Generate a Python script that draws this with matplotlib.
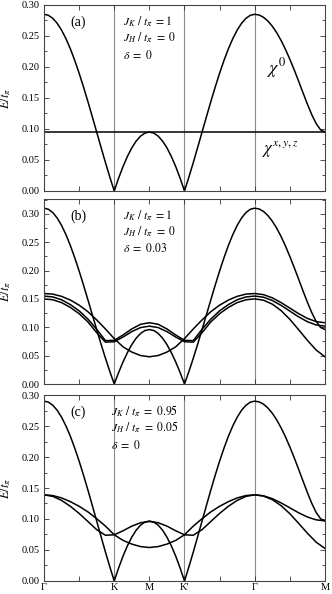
import matplotlib
matplotlib.use('Agg')
import matplotlib.pyplot as plt
from matplotlib.ticker import MultipleLocator, FixedLocator, FormatStrFormatter

plt.rcParams['font.family'] = ['Liberation Serif', 'DejaVu Serif']
plt.rcParams['mathtext.fontset'] = 'stix'

# 路径坐标 Γ-K-M-K'-Γ-M (细网格给 chi0，粗网格给 chi^{x,y,z})
k_fine = [0.0, 0.125, 0.25, 0.375, 0.5, 0.625, 0.75, 0.875, 1.0,
          1.125, 1.25, 1.375, 1.5, 1.625, 1.75, 1.875, 2.0,
          2.125, 2.25, 2.375, 2.5, 2.625, 2.75, 2.875, 3.0,
          3.125, 3.25, 3.375, 3.5, 3.625, 3.75, 3.875, 4.0,
          4.125, 4.25, 4.375, 4.5, 4.625, 4.75, 4.875, 5.0,
          5.125, 5.25, 5.375, 5.5, 5.625, 5.75, 5.875, 6.0,
          6.125, 6.25, 6.375, 6.5, 6.625, 6.75, 6.875, 7.0,
          7.125, 7.25, 7.375, 7.5, 7.625, 7.75, 7.875, 8.0]
k_path = [0.0, 0.25, 0.5, 0.75, 1.0, 1.25, 1.5, 1.75, 2.0,
          2.25, 2.5, 2.75, 3.0, 3.25, 3.5, 3.75, 4.0,
          4.25, 4.5, 4.75, 5.0, 5.25, 5.5, 5.75, 6.0,
          6.25, 6.5, 6.75, 7.0, 7.25, 7.5, 7.75, 8.0]
k_ticks = [0, 2, 3, 4, 6, 8]
k_labels = ['Γ', 'K', 'M', "K'", 'Γ', 'M']
k_vlines = [2, 4, 6]

# (a) J_K=1, J_H=0, delta=0
chi0_a = [0.285, 0.2834, 0.2785, 0.2705, 0.2595, 0.2457, 0.2294, 0.2107, 0.190,
          0.1677, 0.1442, 0.1198, 0.095, 0.0702, 0.0458, 0.0223, 0.0,
          0.0207, 0.0394, 0.0557, 0.0696, 0.0805, 0.0885, 0.0934, 0.095,
          0.0934, 0.0885, 0.0805, 0.0696, 0.0557, 0.0394, 0.0207, 0.0,
          0.0223, 0.0458, 0.0702, 0.095, 0.1198, 0.1442, 0.1677, 0.190,
          0.2107, 0.2294, 0.2457, 0.2595, 0.2705, 0.2785, 0.2834, 0.285,
          0.2838, 0.2801, 0.2741, 0.2658, 0.2553, 0.2428, 0.2284, 0.2124,
          0.1952, 0.1770, 0.1583, 0.1400, 0.1229, 0.1085, 0.0986, 0.095]
chi_xyz_a = 0.095

# (b) J_K=1, J_H=0, delta=0.03
chi0_b = [0.3099, 0.3080, 0.3022, 0.2926, 0.2796, 0.2633, 0.2442, 0.2227, 0.1993,
          0.1744, 0.1485, 0.1222, 0.096, 0.0702, 0.0454, 0.0219, 0.0,
          0.0203, 0.0389, 0.0554, 0.0695, 0.0809, 0.0892, 0.0943, 0.096,
          0.0943, 0.0892, 0.0809, 0.0695, 0.0554, 0.0389, 0.0203, 0.0,
          0.0219, 0.0454, 0.0702, 0.096, 0.1222, 0.1485, 0.1744, 0.1993,
          0.2227, 0.2442, 0.2633, 0.2796, 0.2926, 0.3022, 0.3080, 0.3099,
          0.3085, 0.3041, 0.2969, 0.2870, 0.2746, 0.2599, 0.2431, 0.2247,
          0.2051, 0.1847, 0.1640, 0.1440, 0.1256, 0.1102, 0.0997, 0.096]
chi1_b = [0.1595, 0.1585, 0.1545, 0.148, 0.139, 0.1275, 0.113, 0.097, 0.080,
          0.0656, 0.0563, 0.0502, 0.048,
          0.0502, 0.0563, 0.0656, 0.080,
          0.097, 0.113, 0.1275, 0.139, 0.148, 0.1545, 0.1585, 0.1595,
          0.1575, 0.1519, 0.1435, 0.1338, 0.124, 0.1156, 0.110, 0.108]
chi2_b = [0.155, 0.1535, 0.1485, 0.140, 0.129, 0.1145, 0.0965, 0.0765, 0.077,
          0.0864, 0.0971, 0.1053, 0.108,
          0.1053, 0.0971, 0.0864, 0.077,
          0.0765, 0.0965, 0.1145, 0.129, 0.140, 0.1485, 0.1535, 0.155,
          0.153, 0.1472, 0.1386, 0.1285, 0.1184, 0.1098, 0.104, 0.102]
chi3_b = [0.150, 0.1485, 0.1435, 0.135, 0.124, 0.1095, 0.0905, 0.0738, 0.0745,
          0.0828, 0.0924, 0.0995, 0.102,
          0.0995, 0.0924, 0.0828, 0.0745,
          0.0738, 0.0905, 0.1095, 0.124, 0.135, 0.1435, 0.1485, 0.150,
          0.1477, 0.1408, 0.1294, 0.114, 0.0957, 0.0769, 0.0598, 0.048]

# (c) J_K=0.95, J_H=0.05, delta=0
chi0_c = [0.2901, 0.2885, 0.2835, 0.2754, 0.2642, 0.2501, 0.2335, 0.2144, 0.1934,
          0.1707, 0.1468, 0.1219, 0.0967, 0.0715, 0.0466, 0.0227, 0.0,
          0.0210, 0.0401, 0.0567, 0.0708, 0.0820, 0.0901, 0.0951, 0.0967,
          0.0951, 0.0901, 0.0820, 0.0708, 0.0567, 0.0401, 0.0210, 0.0,
          0.0227, 0.0466, 0.0715, 0.0967, 0.1219, 0.1468, 0.1707, 0.1934,
          0.2144, 0.2335, 0.2501, 0.2642, 0.2754, 0.2835, 0.2885, 0.2901,
          0.2889, 0.2852, 0.2790, 0.2706, 0.2599, 0.2471, 0.2325, 0.2162,
          0.1986, 0.1801, 0.1612, 0.1425, 0.1251, 0.1104, 0.1004, 0.0967]
chi1_c = [0.139, 0.1378, 0.134, 0.128, 0.1205, 0.1115, 0.1005, 0.0885, 0.0745,
          0.0655, 0.0595, 0.0555, 0.054,
          0.0555, 0.0595, 0.0655, 0.0745,
          0.0885, 0.1005, 0.1115, 0.1205, 0.128, 0.134, 0.1378, 0.139,
          0.1374, 0.1328, 0.126, 0.118, 0.110, 0.1032, 0.0986, 0.097]
chi2_c = [0.139, 0.1365, 0.130, 0.1205, 0.109, 0.096, 0.0828, 0.0738, 0.0745,
          0.081, 0.0885, 0.094, 0.096,
          0.094, 0.0885, 0.081, 0.0745,
          0.0738, 0.0828, 0.096, 0.109, 0.1205, 0.130, 0.1365, 0.139,
          0.137, 0.1312, 0.1215, 0.1085, 0.093, 0.077, 0.0625, 0.0525]

params_a = [r'$J_K\ /\ t_\pi\ =1$', r'$J_H\ /\ t_\pi\ =\ 0$', r'$\delta\ =\ 0$']
params_b = [r'$J_K\ /\ t_\pi\ =1$', r'$J_H\ /\ t_\pi\ =\ 0$', r'$\delta\ =\ 0.03$']
params_c = [r'$J_K\ /\ t_\pi\ =\ 0.95$', r'$J_H\ /\ t_\pi\ =\ 0.05$', r'$\delta\ =\ 0$']

fig = plt.figure(figsize=(3.32, 5.94), dpi=100)
ax_a = fig.add_axes([0.1325, 0.6785, 0.8464, 0.3131])
ax_b = fig.add_axes([0.1325, 0.3535, 0.8464, 0.3114])
ax_c = fig.add_axes([0.1325, 0.0219, 0.8464, 0.3131])


def style_axes(ax, ytop, show_x):
    ax.set_xlim(0, 8)
    ax.set_ylim(0, ytop)
    for v in k_vlines:
        ax.axvline(v, color='#8a8a8a', lw=0.8, zorder=1)
    ax.xaxis.set_major_locator(FixedLocator([0, 1, 2, 3, 4, 5, 6, 7, 8]))
    if show_x:
        labels = []
        for i in range(9):
            labels.append(k_labels[k_ticks.index(i)] if i in k_ticks else '')
        ax.set_xticklabels(labels)
    else:
        ax.set_xticklabels([])
    ax.yaxis.set_major_locator(MultipleLocator(0.05))
    ax.yaxis.set_minor_locator(MultipleLocator(0.025))
    ax.yaxis.set_major_formatter(FormatStrFormatter('%.2f'))
    ax.tick_params(which='both', direction='in', top=True, right=True,
                   labelsize=7.5, pad=3, color='#333333')
    ax.tick_params(which='major', length=3.5, width=0.6)
    ax.tick_params(which='minor', length=2, width=0.6)
    ax.tick_params(axis='x', pad=1.5)
    for s in ax.spines.values():
        s.set_linewidth(0.8)
        s.set_color('#444444')
    ax.set_ylabel(r'$E/t_\pi$', fontsize=9, labelpad=6)


def add_params(ax, tag, params, x0):
    ax.text(0.121, 0.909, tag, transform=ax.transAxes, fontsize=10,
            ha='center', va='center')
    ys = [0.911, 0.825, 0.731]
    for txt, yy in zip(params, ys):
        ax.text(x0, yy, txt, transform=ax.transAxes, fontsize=8.5,
                ha='left', va='center')


lw = 1.1
# (a)
style_axes(ax_a, 0.30, False)
ax_a.plot(k_fine, chi0_a, color='black', lw=lw)
ax_a.axhline(chi_xyz_a, color='black', lw=lw)
add_params(ax_a, '(a)', params_a, 0.28)
ax_a.text(6.35, 0.19, r'$\chi^0$', fontsize=13)
ax_a.text(6.22, 0.061, r'$\chi^{x,y,z}$', fontsize=12)

# (b)
style_axes(ax_b, 0.326, False)
ax_b.plot(k_fine, chi0_b, color='black', lw=lw)
for band in [chi1_b, chi2_b, chi3_b]:
    ax_b.plot(k_path, band, color='black', lw=lw)
add_params(ax_b, '(b)', params_b, 0.28)

# (c)
style_axes(ax_c, 0.30, True)
ax_c.plot(k_fine, chi0_c, color='black', lw=lw)
for band in [chi1_c, chi2_c]:
    ax_c.plot(k_path, band, color='black', lw=lw)
add_params(ax_c, '(c)', params_c, 0.24)

fig.savefig('out.png', dpi=100)
